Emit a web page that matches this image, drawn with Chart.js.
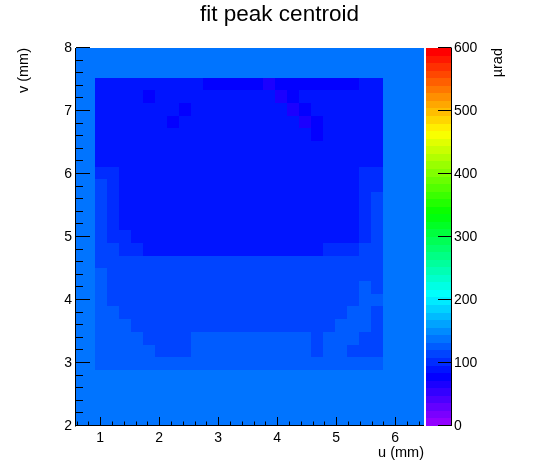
<!DOCTYPE html>
<html><head><meta charset="utf-8">
<script src="https://cdn.jsdelivr.net/npm/chart.js@4.4.1/dist/chart.umd.min.js"></script>
<style>html,body{margin:0;padding:0;background:#fff}canvas{display:block}</style>
</head><body>
<canvas id="c" width="559" height="474"></canvas>
<script>
// ---------- data ----------
const chartTitle = 'fit peak centroid';
const xTitle = 'u (mm)';
const yTitle = 'v (mm)';
const zTitle = 'µrad';
const xTicks = [1, 2, 3, 4, 5, 6];
const yTicks = [2, 3, 4, 5, 6, 7, 8];
const zTicks = [0, 100, 200, 300, 400, 500, 600];
const uRange = [0.59, 6.49];
const vRange = [2, 8];
const zRange = [0, 600];
const backgroundValue = 135;          // average level of the noisy outer area
const innerU = [0.92, 5.80];          // extent of the measured square
const innerV = [2.89, 7.53];
// rows from top (v=7.53) to bottom (v=2.89), columns from u=0.92 to u=5.80
const r00 = [90,90,90,90,90,90,90,90,88,82,82,82,82,80,70,76,82,82,82,82,82,82,84,90];
const r01 = [90,90,90,90,82,90,90,90,90,90,90,90,90,88,86,70,74,88,90,90,90,90,90,90];
const r02 = [90,90,90,90,84,90,88,82,88,90,90,90,90,90,90,86,70,74,90,90,90,90,90,90];
const r03 = [90,90,90,90,90,90,82,84,90,90,90,90,90,90,90,90,84,70,76,90,90,90,90,90];
const r04 = [90,90,90,90,90,90,90,90,90,90,90,90,90,90,90,90,90,84,80,90,90,90,90,90];
const r05 = [90,90,90,90,90,90,90,90,90,90,90,90,90,90,90,90,90,90,90,90,90,90,90,90];
const r06 = [94,90,90,90,90,90,90,90,90,90,90,90,90,90,90,90,90,90,90,90,90,90,90,94];
const r07 = [104,100,92,90,90,90,90,90,90,90,90,90,90,90,90,90,90,90,90,90,90,90,96,100];
const r08 = [110,100,95,95,95,95,95,95,95,95,95,95,95,95,95,95,95,95,95,95,95,95,100,106];
const r09 = [112,102,95,95,95,95,95,95,95,95,95,95,95,95,95,95,95,95,95,95,95,95,100,108];
const r10 = [112,102,95,95,95,95,95,95,95,95,95,95,95,95,95,95,95,95,95,95,95,95,100,108];
const r11 = [112,104,95,95,95,95,95,95,95,95,95,95,95,95,95,95,95,95,95,95,95,95,102,108];
const r12 = [112,106,97,95,95,95,95,95,95,95,95,95,95,95,95,95,95,95,95,95,95,95,100,108];
const r13 = [114,110,100,96,95,95,95,95,95,95,95,95,95,95,95,95,95,95,95,98,104,106,108,110];
const r14 = [118,116,114,112,110,108,108,110,112,112,112,112,112,112,112,112,110,110,110,112,112,112,112,114];
const r15 = [120,118,116,114,114,112,112,114,114,114,114,114,114,114,114,114,114,114,114,114,116,118,118,116];
const r16 = [120,118,116,114,114,112,112,114,114,114,114,114,114,114,114,114,114,114,114,114,116,118,122,118];
const r17 = [122,118,118,116,114,114,112,114,114,114,114,114,114,114,114,114,114,114,114,114,116,118,124,124];
const r18 = [122,120,118,118,116,114,114,114,114,114,114,114,114,114,114,114,114,114,114,116,118,124,124,118];
const r19 = [122,120,120,118,118,114,114,114,114,116,118,118,118,118,116,114,114,114,114,118,124,124,120,116];
const r20 = [122,120,120,120,118,116,114,114,122,124,124,124,124,124,124,124,122,120,116,124,124,120,116,116];
const r21 = [124,122,122,120,120,118,116,116,122,124,124,124,124,124,124,124,124,122,118,122,120,118,116,118];
const r22 = [126,124,124,124,124,124,124,124,124,126,126,126,126,126,126,126,124,124,124,124,124,124,124,124];
const innerRows = [r00,r01,r02,r03,r04,r05,r06,r07,r08,r09,r10,r11,r12,r13,r14,r15,r16,r17,r18,r19,r20,r21,r22];

// ---------- palette (ROOT "pretty" palette, 50 levels) ----------
const nColors = 50;
function palette(v) {
  let i = Math.floor((v - zRange[0]) / (zRange[1] - zRange[0]) * nColors);
  i = Math.max(0, Math.min(nColors - 1, i));
  const hue = 280 - (i + 1) * 280 / nColors;
  return 'hsl(' + hue + ',100%,50%)';
}

// ---------- build cell tables for the library ----------
const bgCells = [{x: (uRange[0] + uRange[1]) / 2, y: (vRange[0] + vRange[1]) / 2,
                  w: uRange[1] - uRange[0], h: vRange[1] - vRange[0], v: backgroundValue}];
const nCols = innerRows[0].length, nRows = innerRows.length;
const du = (innerU[1] - innerU[0]) / nCols, dv = (innerV[1] - innerV[0]) / nRows;
const innerCells = [];
innerRows.forEach((row, r) => row.forEach((val, j) => {
  innerCells.push({x: innerU[0] + (j + 0.5) * du, y: innerV[1] - (r + 0.5) * dv, w: du, h: dv, v: val});
}));

const FONT = "'Liberation Sans', Arial, Helvetica, sans-serif";

const heatmapPlugin = {
  id: 'heatmap',
  beforeDatasetsDraw(chart) {
    const {ctx, chartArea: a, scales: {x, y}} = chart;
    ctx.save();
    ctx.beginPath();
    ctx.rect(a.left, a.top, a.right - a.left, a.bottom - a.top);
    ctx.clip();
    chart.data.datasets.forEach(ds => ds.data.forEach(c => {
      const x0 = Math.round(x.getPixelForValue(c.x - c.w / 2));
      const x1 = Math.round(x.getPixelForValue(c.x + c.w / 2));
      const y0 = Math.round(y.getPixelForValue(c.y + c.h / 2));
      const y1 = Math.round(y.getPixelForValue(c.y - c.h / 2));
      ctx.fillStyle = palette(c.v);
      ctx.fillRect(x0, y0, x1 - x0, y1 - y0);
    }));
    ctx.restore();
  },
  afterDraw(chart) {
    const {ctx, chartArea: a, scales: {x, y, z}} = chart;
    ctx.save();
    // colour bar
    const cbLeft = a.right + 2, cbRight = a.right + 27;
    const step = (zRange[1] - zRange[0]) / nColors;
    for (let k = 0; k < nColors; k++) {
      const zl = zRange[0] + k * step, zh = zl + step;
      const y0 = Math.round(z.getPixelForValue(zh)), y1 = Math.round(z.getPixelForValue(zl));
      ctx.fillStyle = palette(zl + step / 2);
      ctx.fillRect(cbLeft, y0, cbRight - cbLeft, y1 - y0);
    }
    ctx.strokeStyle = '#000';
    ctx.lineWidth = 1;
    ctx.beginPath();
    // axis lines
    ctx.moveTo(a.left - 0.5, a.top); ctx.lineTo(a.left - 0.5, a.bottom + 0.5);
    ctx.moveTo(a.left - 1, a.bottom - 0.5); ctx.lineTo(a.right, a.bottom - 0.5);
    ctx.moveTo(cbRight + 0.5, a.top); ctx.lineTo(cbRight + 0.5, a.bottom);
    // y ticks
    for (let k = vRange[0] * 5; k <= vRange[1] * 5; k++) {
      const py = Math.round(y.getPixelForValue(k / 5)) - 0.5;
      const len = (k % 5 === 0) ? 14 : 7;
      ctx.moveTo(a.left, py); ctx.lineTo(a.left + len, py);
    }
    // x ticks
    for (let k = Math.ceil(uRange[0] * 5); k <= Math.floor(uRange[1] * 5); k++) {
      const px = Math.round(x.getPixelForValue(k / 5)) + 0.5;
      const len = (k % 5 === 0) ? 9 : 4.5;
      ctx.moveTo(px, a.bottom); ctx.lineTo(px, a.bottom - len);
    }
    // z ticks
    zTicks.forEach(t => {
      const py = Math.round(z.getPixelForValue(t)) - 0.5;
      ctx.moveTo(cbRight + 0.5, py); ctx.lineTo(cbRight - 13, py);
    });
    ctx.stroke();
    // axis titles
    ctx.fillStyle = '#000';
    ctx.font = '14.5px ' + FONT;
    ctx.textBaseline = 'middle';
    ctx.textAlign = 'right';
    ctx.fillText(xTitle, a.right, 453);
    ctx.save();
    ctx.translate(24, a.top);
    ctx.rotate(-Math.PI / 2);
    ctx.fillText(yTitle, 0, 0);
    ctx.restore();
    ctx.save();
    ctx.translate(498, a.top);
    ctx.rotate(-Math.PI / 2);
    ctx.fillText(zTitle, 0, 0);
    ctx.restore();
    ctx.restore();
  }
};

const tickFont = {family: FONT, size: 14};
new Chart(document.getElementById('c'), {
  type: 'scatter',
  data: {
    datasets: [
      {label: 'background', data: bgCells, pointRadius: 0, pointHoverRadius: 0},
      {label: 'centroid', data: innerCells, pointRadius: 0, pointHoverRadius: 0}
    ]
  },
  plugins: [heatmapPlugin],
  options: {
    responsive: false,
    animation: false,
    events: [],
    layout: {padding: 0},
    plugins: {
      legend: {display: false},
      tooltip: {enabled: false},
      title: {display: true, text: chartTitle, color: '#000',
              font: {family: FONT, size: 22.5, weight: 'normal'},
              padding: {top: 1, bottom: 20}}
    },
    scales: {
      x: {
        type: 'linear', position: 'bottom', min: uRange[0], max: uRange[1],
        grid: {display: false, drawTicks: false}, border: {display: false},
        ticks: {font: tickFont, color: '#000', padding: 4, autoSkip: false, maxRotation: 0, minRotation: 0},
        afterBuildTicks: s => { s.ticks = xTicks.map(v => ({value: v})); },
        afterFit: s => { s.height = 48; }
      },
      y: {
        type: 'linear', position: 'left', min: vRange[0], max: vRange[1],
        grid: {display: false, drawTicks: false}, border: {display: false},
        ticks: {font: tickFont, color: '#000', padding: 4, autoSkip: false},
        afterBuildTicks: s => { s.ticks = yTicks.map(v => ({value: v})); },
        afterFit: s => { s.width = 76; }
      },
      z: {
        type: 'linear', position: 'right', min: zRange[0], max: zRange[1],
        grid: {display: false, drawTicks: false}, border: {display: false},
        ticks: {font: tickFont, color: '#000', padding: 30, autoSkip: false},
        afterBuildTicks: s => { s.ticks = zTicks.map(v => ({value: v})); },
        afterFit: s => { s.width = 135; }
      }
    }
  }
});
</script>
</body></html>
